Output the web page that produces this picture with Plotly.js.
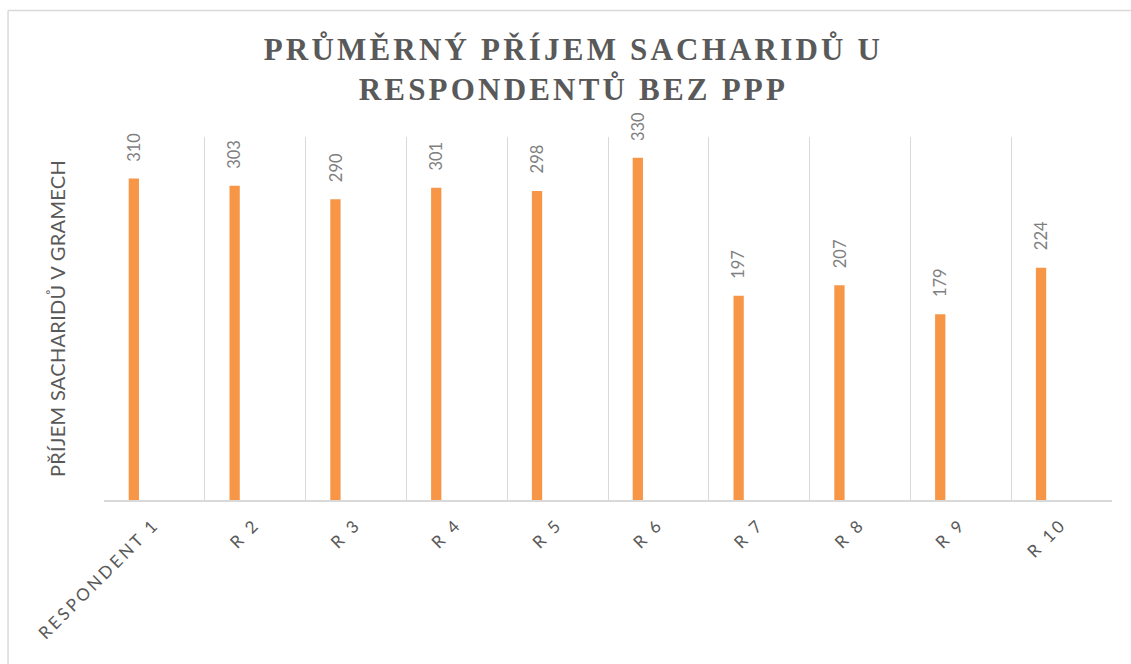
<!DOCTYPE html>
<html>
<head>
<meta charset="utf-8">
<script src="https://cdn.plot.ly/plotly-3.0.1.min.js"></script>
<style>
  html, body { margin: 0; padding: 0; background: #fff; }
  #chart { width: 1131px; height: 664px; }
  .gtitle { letter-spacing: 3.2px; }
  .xtick text { letter-spacing: 3px; }
  .ytitle { letter-spacing: 0.3px; }
</style>
</head>
<body>
<div id="chart"></div>
<script>
const categories = ["RESPONDENT 1", "R 2", "R 3", "R 4", "R 5", "R 6", "R 7", "R 8", "R 9", "R 10"];
const values = [310, 303, 290, 301, 298, 330, 197, 207, 179, 224];
const chartTitle = "PRŮMĚRNÝ PŘÍJEM SACHARIDŮ U<br>RESPONDENTŮ BEZ PPP";
const yTitle = "PŘÍJEM SACHARIDŮ V GRAMECH";

const barColor = "#F79646";
const gridColor = "#d9d9d9";
const textGray = "#595959";
const labelGray = "#7f7f7f";
const sansFont = "Lato, 'Open Sans', sans-serif";

const trace = {
  type: "bar",
  x: categories,
  y: values,
  marker: { color: barColor },
  width: 0.102,
  offset: -0.255,
  hoverinfo: "x+y"
};

const annotations = categories.map((c, i) => ({
  x: c,
  y: values[i],
  xref: "x",
  yref: "y",
  text: String(values[i]),
  showarrow: false,
  textangle: -90,
  xanchor: "center",
  yanchor: "bottom",
  xshift: -20.6,
  yshift: 15,
  font: { family: sansFont, size: 16.5, color: labelGray }
}));

const layout = {
  width: 1131,
  height: 664,
  margin: { l: 104, r: 19, t: 137, b: 164 },
  paper_bgcolor: "#ffffff",
  plot_bgcolor: "#ffffff",
  showlegend: false,
  title: {
    text: chartTitle,
    x: 0.507,
    xref: "container",
    xanchor: "center",
    y: 0.91,
    yref: "container",
    yanchor: "top",
    font: { family: "'Liberation Serif', 'Times New Roman', serif", size: 31, color: textGray, weight: 700 }
  },
  xaxis: {
    type: "category",
    tickson: "boundaries",
    showgrid: true,
    gridcolor: gridColor,
    gridwidth: 1,
    showline: true,
    linecolor: gridColor,
    linewidth: 1.5,
    ticks: "",
    tickangle: -45,
    ticklabelstandoff: 6,
    tickfont: { family: sansFont, size: 17, color: textGray },
    range: [-0.5, 9.5],
    fixedrange: true
  },
  yaxis: {
    range: [0, 350],
    showgrid: false,
    zeroline: false,
    showline: false,
    showticklabels: false,
    ticks: "",
    title: {
      text: yTitle,
      standoff: 32,
      font: { family: sansFont, size: 20, color: textGray }
    },
    fixedrange: true
  },
  annotations: annotations,
  shapes: [
    { type: "line", xref: "paper", yref: "paper", x0: -0.0952, x1: -0.0952, y0: -0.6, y1: 1.3485, line: { color: gridColor, width: 1.5 } },
    { type: "line", xref: "paper", yref: "paper", x0: -0.0952, x1: 1.1, y0: 1.3485, y1: 1.3485, line: { color: gridColor, width: 1.5 } }
  ]
};

Plotly.newPlot("chart", [trace], layout, { displayModeBar: false });
</script>
</body>
</html>
